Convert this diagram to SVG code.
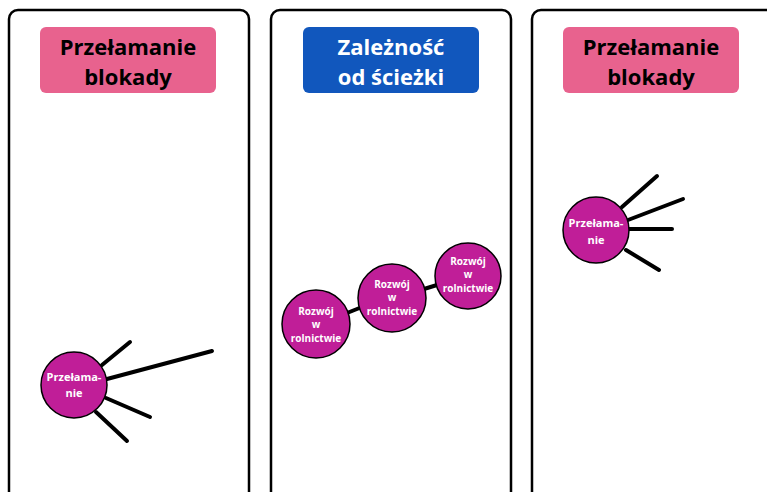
<svg xmlns="http://www.w3.org/2000/svg" width="767" height="492" viewBox="0 0 767 492">
<style>
.panel{fill:#fff;stroke:#000;stroke-width:2.5}
.hdr-pink{fill:#E8628E}
.hdr-blue{fill:#1157BD}
.htxt{font-family:"Open Sans","Noto Sans",sans-serif;font-weight:bold;font-size:22px;text-anchor:middle}
.node{fill:#C01E98;stroke:#000;stroke-width:1.5}
.ntxt{font-family:"Open Sans","Noto Sans",sans-serif;font-weight:bold;fill:#fff;text-anchor:middle}
.edge{stroke:#000;stroke-width:4;stroke-linecap:round;fill:none}
</style>
<rect width="767" height="492" fill="#fff"/>
<g id="panel1">
<rect class="panel" x="9" y="10" width="240" height="500" rx="9"/>
<rect class="hdr-pink" x="40" y="27" width="176" height="66" rx="6"/>
<text class="htxt" x="128" y="55">Przełamanie</text>
<text class="htxt" x="128" y="85">blokady</text>
</g>
<g id="panel2">
<rect class="panel" x="271" y="10" width="240" height="500" rx="9"/>
<rect class="hdr-blue" x="303" y="27" width="176" height="66" rx="6"/>
<text class="htxt" x="391" y="55" fill="#fff">Zależność</text>
<text class="htxt" x="391" y="85" fill="#fff">od ścieżki</text>
</g>
<g id="panel3">
<rect class="panel" x="532" y="10" width="260" height="500" rx="9"/>
<rect class="hdr-pink" x="563" y="27" width="176" height="66" rx="6"/>
<text class="htxt" x="651" y="55">Przełamanie</text>
<text class="htxt" x="651" y="85">blokady</text>
</g>
<g id="connectors">
<line class="edge" x1="102" y1="365" x2="130" y2="342"/>
<line class="edge" x1="107" y1="379" x2="212" y2="351"/>
<line class="edge" x1="106" y1="398" x2="150" y2="417"/>
<line class="edge" x1="96" y1="412" x2="127" y2="441"/>
<line class="edge" x1="347" y1="313" x2="362" y2="307"/>
<line class="edge" x1="424" y1="289" x2="437" y2="285"/>
<line class="edge" x1="622" y1="207" x2="657" y2="176"/>
<line class="edge" x1="628" y1="220" x2="683" y2="199"/>
<line class="edge" x1="629" y1="229" x2="672" y2="229"/>
<line class="edge" x1="626" y1="250" x2="659" y2="270"/>
</g>
<g id="node-przelamanie-1">
<circle class="node" cx="74" cy="385" r="33"/>
<text class="ntxt" x="74" y="381" font-size="11">Przełama-</text>
<text class="ntxt" x="74" y="397" font-size="11">nie</text>
</g>
<g id="node-rozwoj-1">
<circle class="node" cx="316" cy="324" r="34"/>
<text class="ntxt" font-size="10" x="316" y="315">Rozwój</text>
<text class="ntxt" font-size="10" x="316" y="328">w</text>
<text class="ntxt" font-size="10" x="316" y="342">rolnictwie</text>
</g>
<g id="node-rozwoj-2">
<circle class="node" cx="392" cy="298" r="34"/>
<text class="ntxt" font-size="10" x="392" y="288">Rozwój</text>
<text class="ntxt" font-size="10" x="392" y="301">w</text>
<text class="ntxt" font-size="10" x="392" y="315">rolnictwie</text>
</g>
<g id="node-rozwoj-3">
<circle class="node" cx="468" cy="276" r="33"/>
<text class="ntxt" font-size="10" x="468" y="265">Rozwój</text>
<text class="ntxt" font-size="10" x="468" y="278">w</text>
<text class="ntxt" font-size="10" x="468" y="292">rolnictwie</text>
</g>
<g id="node-przelamanie-2">
<circle class="node" cx="596" cy="230" r="33"/>
<text class="ntxt" x="596" y="227" font-size="11">Przełama-</text>
<text class="ntxt" x="596" y="244" font-size="11">nie</text>
</g>
</svg>
